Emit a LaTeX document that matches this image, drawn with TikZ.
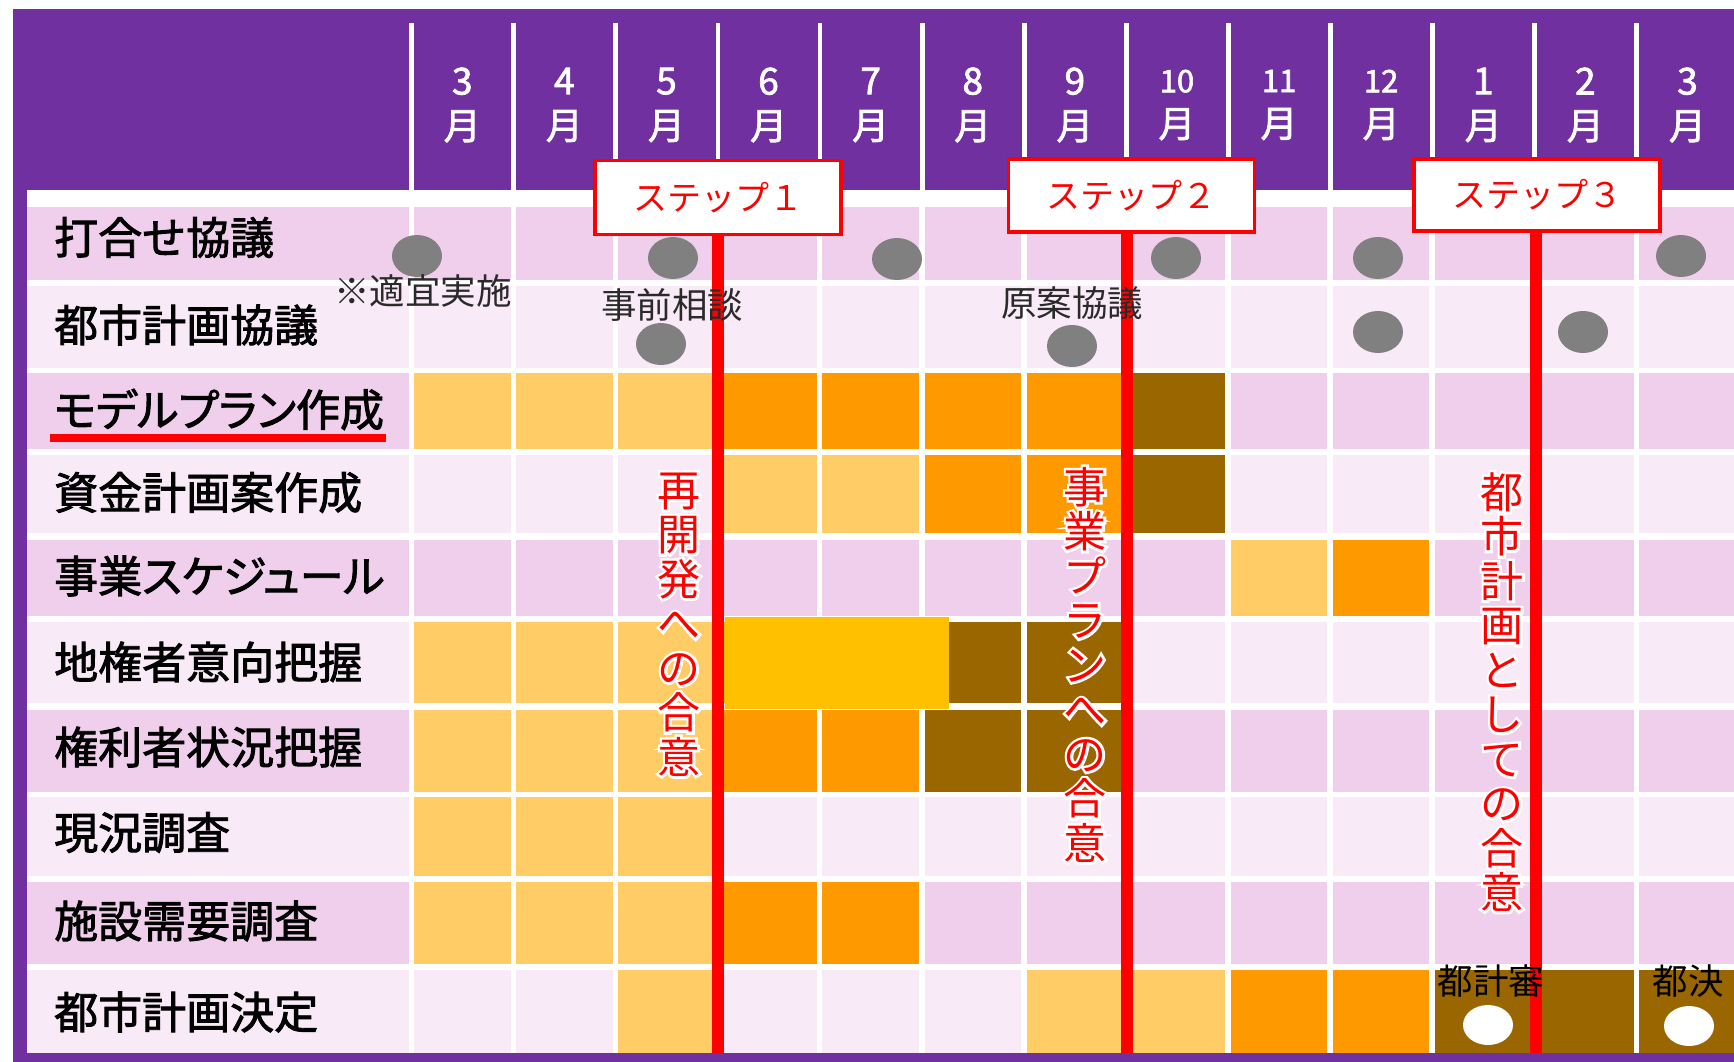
\documentclass[tikz,border=0pt]{standalone}
\usepackage{fontspec}
\setmainfont{Noto Sans CJK JP}
\newfontfamily\lblfont[FakeBold=2]{Noto Sans CJK JP}
\newfontfamily\lblpalt[FakeBold=2,RawFeature=+palt]{Noto Sans CJK JP}
\newfontfamily\monfont[FakeBold=2]{Noto Sans CJK JP}
\newfontfamily\halofont[FakeBold=12]{Noto Sans CJK JP}
\usetikzlibrary{shapes.geometric}
\definecolor{purp}{HTML}{7030A0}
\definecolor{cA}{HTML}{F0CFED}
\definecolor{cB}{HTML}{F9EAF8}
\definecolor{cL}{HTML}{FFCC66}
\definecolor{cO}{HTML}{FF9900}
\definecolor{cR}{HTML}{996600}
\definecolor{cG}{HTML}{FFC000}
\definecolor{dotgray}{HTML}{808080}
\definecolor{notegray}{HTML}{2A2A2A}
\tikzset{
  lbl/.style={anchor=west, inner sep=0pt, text=black, font=\lblfont\fontsize{44}{44}\selectfont},
  month/.style={align=center, inner sep=0pt, text=white, font=\monfont\fontsize{37}{45}\selectfont},
  note/.style={inner sep=0pt, text=notegray, font=\fontsize{35.5}{36}\selectfont},
  stepbox/.style={draw=red, line width=3.5pt, fill=white, minimum width=246pt, minimum height=74pt, inner sep=0pt, text=red, font=\fontsize{34}{34}\selectfont},
  redline/.style={draw=red, line width=12pt},
  gdot/.style={ellipse, fill=dotgray, minimum width=50pt, minimum height=42pt, inner sep=0pt},
  wdot/.style={ellipse, fill=white, minimum width=50pt, minimum height=40pt, inner sep=0pt},
  vtxt/.style={align=center, inner sep=0pt, anchor=north, text=red, font=\fontsize{43}{44.5}\selectfont},
  vhalo/.style={vtxt, text=white, font=\halofont\fontsize{43}{44.5}\selectfont}
}
\begin{document}
\begin{tikzpicture}[x=1pt,y=-1pt]
\useasboundingbox (0,0) rectangle (1734,1062);
\fill[white] (0,0) rectangle (1734,1062);
\fill[purp] (13,9) rectangle (1734,1062);
\fill[white] (27,190) rectangle (1734,1053);
% header separators
\foreach \k in {0,...,12} \fill[white] ({409.2+102.1*\k},23) rectangle ({414+102.1*\k},190);
% rows: label background + cells
\foreach \t/\b/\lc/\cl in {
  207/280/cA/{cA,cA,cA,cA,cA,cA,cA,cA,cA,cA,cA,cA,cA},
  286/368/cB/{cB,cB,cB,cB,cB,cB,cB,cB,cB,cB,cB,cB,cB},
  373/449/cA/{cL,cL,cL,cO,cO,cO,cO,cR,cA,cA,cA,cA,cA},
  455/533/cB/{cB,cB,cB,cL,cL,cO,cO,cR,cB,cB,cB,cB,cB},
  540/616/cA/{cA,cA,cA,cA,cA,cA,cA,cA,cL,cO,cA,cA,cA},
  622/703/cB/{cL,cL,cL,cG,cG,cR,cR,cB,cB,cB,cB,cB,cB},
  710/792/cA/{cL,cL,cL,cO,cO,cR,cR,cA,cA,cA,cA,cA,cA},
  797/876/cB/{cL,cL,cL,cB,cB,cB,cB,cB,cB,cB,cB,cB,cB},
  882/964/cA/{cL,cL,cL,cO,cO,cA,cA,cA,cA,cA,cA,cA,cA},
  970/1053/cB/{cB,cB,cL,cB,cB,cB,cL,cL,cO,cO,cR,cR,cR}} {
  \fill[\lc] (27,\t) rectangle (409.2,\b);
  \foreach \cc [count=\k from 0] in \cl
    \fill[\cc] ({414+102.1*\k},\t) rectangle ({510.5+102.1*\k},\b);
}
% merged blocks
\fill[cG] (724.7,617) rectangle (949.3,709);
\fill[cR] (1530,970) rectangle (1540,1053);
% underline
\fill[red] (50,434) rectangle (386,442);
% month headers
\foreach \m/\fs [count=\k from 0] in {3/37,4/37,5/37,6/37,7/37,8/37,9/37,10/31,11/31,12/31,1/37,2/37,3/37}
  \node[month] (m\k) at ({462.25+102.1*\k},105) {{\fontsize{\fs}{45}\selectfont\m}\\月};
% row labels
\node[lbl] (l1) at (54,237.5) {打合せ協議};
\node[lbl] (l2) at (54,325) {都市計画協議};
\node[lbl] (l3) at (54,409.5) {\lblpalt モデルプラン作成};
\node[lbl] (l4) at (54,492.5) {資金計画案作成};
\node[lbl] (l5) at (54,576) {\lblpalt 事業スケジュール};
\node[lbl] (l6) at (54,662) {地権者意向把握};
\node[lbl] (l7) at (54,747) {権利者状況把握};
\node[lbl] (l8) at (54,832.5) {現況調査};
\node[lbl] (l9) at (54,921) {施設需要調査};
\node[lbl] (l10) at (54,1012) {都市計画決定};
% gray dots
\foreach \x/\y [count=\i] in {417/256,673/258,897/259,1176/258,1378/258,1681/256,661/344,1072/346,1378/332,1583/332}
  \node[gdot] (d\i) at (\x,\y) {};
% white dots
\node[wdot] (w1) at (1488,1025) {};
\node[wdot] (w2) at (1689,1026) {};
% steps and their lines
\node[stepbox] (s1) at (718,197.5) {ステップ１};
\node[stepbox, minimum height=73pt] (s2) at (1131.5,195.5) {ステップ２};
\node[stepbox, minimum height=72pt] (s3) at (1537,195) {ステップ３};
\coordinate (e1) at (718,1053);
\coordinate (e2) at (1127,1053);
\coordinate (e3) at (1535.5,1053);
\draw[redline] (s1.south -| e1) -- (e1);
\draw[redline] (s2.south -| e2) -- (e2);
\draw[redline] (s3.south -| e3) -- (e3);
% notes (over the lines)
\node[note] (n1) at (423,291) {※適宜実施};
\node[note] (n2) at (672,305) {事前相談};
\node[note] (n3) at (1072,303) {原案協議};
\node[note,text=black] (n4) at (1491,981) {都計審};
\node[note,text=black] (n5) at (1688,981) {都決};
% vertical texts
\node[vhalo] (v1h) at (679,466) {\rule{0pt}{40pt}再\\開\\発\\へ\\の\\合\\意};
\node[vtxt] (v1) at (679,466) {\rule{0pt}{40pt}再\\開\\発\\へ\\の\\合\\意};
\node[vhalo] (v2h) at (1085,463) {\rule{0pt}{40pt}事\\業\\プ\\ラ\\ン\\へ\\の\\合\\意};
\node[vtxt] (v2) at (1085,463) {\rule{0pt}{40pt}事\\業\\プ\\ラ\\ン\\へ\\の\\合\\意};
\node[vhalo] (v3h) at (1502,468) {\rule{0pt}{40pt}都\\市\\計\\画\\と\\し\\て\\の\\合\\意};
\node[vtxt] (v3) at (1502,468) {\rule{0pt}{40pt}都\\市\\計\\画\\と\\し\\て\\の\\合\\意};
\end{tikzpicture}
\end{document}
